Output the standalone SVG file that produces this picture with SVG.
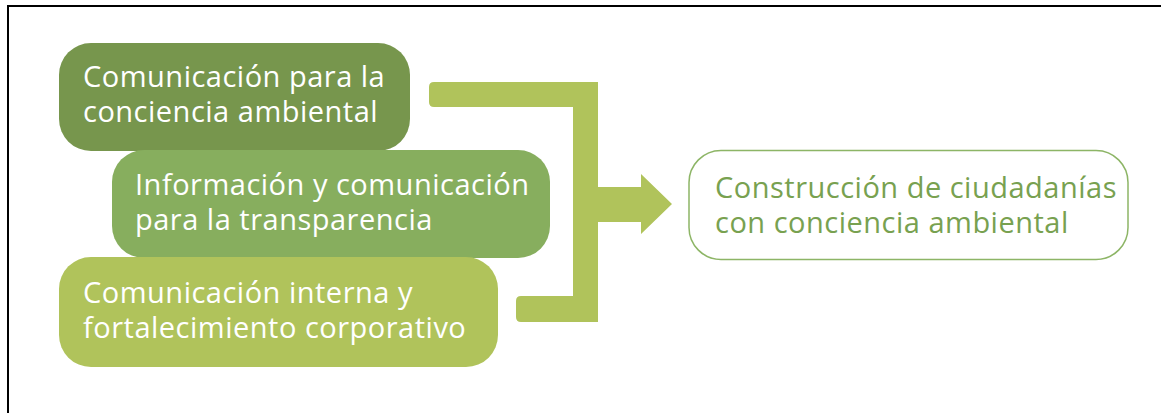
<svg xmlns="http://www.w3.org/2000/svg" width="1161" height="413" viewBox="0 0 1161 413">
<style>
.t{font-family:"Open Sans","DejaVu Sans",sans-serif;font-size:29px;letter-spacing:0.5px;fill:#ffffff}
.rt{font-family:"Open Sans","DejaVu Sans",sans-serif;font-size:29px;letter-spacing:0.5px;fill:#78a150}
</style>
<rect x="0" y="0" width="1161" height="413" fill="#ffffff"/>
<rect x="8" y="6" width="1170" height="430" fill="none" stroke="#000000" stroke-width="2"/>
<g id="connectors">
<path d="M434 82 L598 82 L598 187 L641 187 L641 174 L672 204 L641 234 L641 222 L598 222 L598 322 L521 322 Q516 322 516 317 L516 301 Q516 296 521 296 L573 296 L573 107 L434 107 Q429 107 429 102 L429 87 Q429 82 434 82 Z" fill="#b0c35b"/>
</g>
<g id="node1">
<rect x="59" y="43" width="351" height="108" rx="32" fill="#77964d"/>
<text class="t" x="83" y="87">Comunicación para la<tspan x="83" dy="35">conciencia ambiental</tspan></text>
</g>
<g id="node2">
<rect x="112" y="150" width="438" height="108" rx="32" fill="#87ae5e"/>
<text class="t" x="135" y="195">Información y comunicación<tspan x="135" dy="35">para la transparencia</tspan></text>
</g>
<g id="node3">
<rect x="59" y="257" width="439" height="110" rx="32" fill="#b0c35b"/>
<text class="t" x="83" y="303">Comunicación interna y<tspan x="83" dy="35">fortalecimiento corporativo</tspan></text>
</g>
<g id="node4">
<rect x="689" y="150.5" width="439" height="109" rx="32" fill="#ffffff" stroke="#8db566" stroke-width="1.5"/>
<text class="rt" x="715" y="198">Construcción de ciudadanías<tspan x="715" dy="35">con conciencia ambiental</tspan></text>
</g>
</svg>
